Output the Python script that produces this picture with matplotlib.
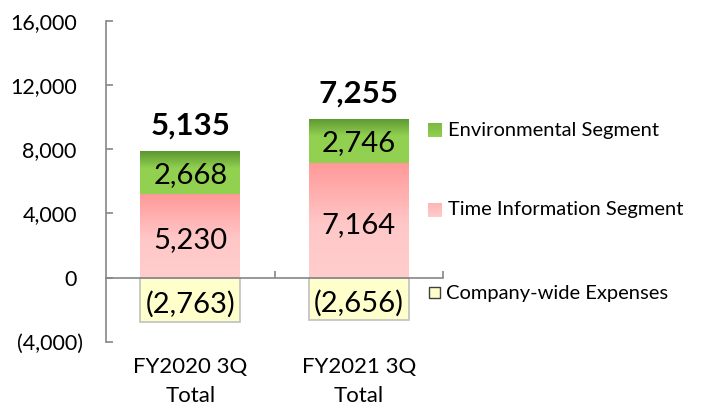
import matplotlib
matplotlib.use("Agg")
import matplotlib.pyplot as plt
import numpy as np
from matplotlib.colors import LinearSegmentedColormap
from matplotlib.patches import Rectangle
from matplotlib.transforms import ScaledTranslation

plt.rcParams['font.family'] = ['Lato', 'DejaVu Sans']

categories = ["FY2020 3Q\nTotal", "FY2021 3Q\nTotal"]
time_info = [5230, 7164]
environmental = [2668, 2746]
company_wide = [-2763, -2656]
totals = [5135, 7255]
series_names = ["Environmental Segment", "Time Information Segment", "Company-wide Expenses"]
yticks = [-4000, 0, 4000, 8000, 12000, 16000]
ytick_labels = ["(4,000)", "0", "4,000", "8,000", "12,000", "16,000"]

def fmt(v):
    return f"({abs(v):,})" if v < 0 else f"{v:,}"

fig = plt.figure(figsize=(7.13, 4.12), dpi=100)
ax = fig.add_axes([0.1487, 0.1699, 0.4726, 0.7799])
ax.set_xlim(-0.5, 1.5)
ax.set_ylim(-4000, 16000)

x = np.arange(len(categories))
w = 0.593

green_cmap = LinearSegmentedColormap.from_list("g", [(0, "#92d050"), (0.6, "#92d050"), (1.0, "#5b9631")])
pink_cmap = LinearSegmentedColormap.from_list("p", [(0, "#ffcccc"), (0.45, "#ffc8c8"), (1.0, "#ff9898")])
grad = np.linspace(0, 1, 256).reshape(-1, 1)

def gradient_fill(bars, cmap):
    for b in bars:
        b.set_facecolor("none")
        x0, y0 = b.get_x(), b.get_y()
        bw, bh = b.get_width(), b.get_height()
        im = ax.imshow(grad, cmap=cmap, origin="lower", aspect="auto",
                       extent=[x0, x0 + bw, y0, y0 + bh], zorder=2)
        im.set_clip_path(b)

b_time = ax.bar(x, time_info, w, color="#ffcccc", linewidth=0, zorder=2)
gradient_fill(b_time, pink_cmap)
b_env = ax.bar(x, environmental, w, bottom=time_info, color="#92d050", linewidth=0, zorder=2)
gradient_fill(b_env, green_cmap)
b_cw = ax.bar(x, company_wide, w, color="#ffffcc", edgecolor="#c0c0c0", linewidth=1.2, zorder=2)

for i in range(len(categories)):
    ax.text(x[i], time_info[i] / 2 - 300, fmt(time_info[i]), ha="center", va="center", fontsize=21, zorder=5)
    ax.text(x[i], time_info[i] + environmental[i] / 2 - 150, fmt(environmental[i]), ha="center", va="center", fontsize=21, zorder=5)
    ax.text(x[i], company_wide[i] / 2 - 250, fmt(company_wide[i]), ha="center", va="center", fontsize=21, zorder=5)
    ax.text(x[i], time_info[i] + environmental[i] + 700, fmt(totals[i]), ha="center", va="bottom",
            fontsize=22.5, fontweight="bold", zorder=5)

# axes styling
for s in ["top", "right"]:
    ax.spines[s].set_visible(False)
ax.spines["left"].set_color("#868686")
ax.spines["bottom"].set_color("#868686")
ax.spines["left"].set_linewidth(1.2)
ax.spines["bottom"].set_linewidth(1.2)
ax.spines["bottom"].set_position(("data", 0))
ax.spines["bottom"].set_zorder(4)

ax.set_yticks(yticks)
ax.set_yticklabels(ytick_labels)
ax.tick_params(axis="y", direction="in", length=5, width=1.2, color="#868686", pad=21, labelsize=15.5)
for lab in ax.get_yticklabels():
    if lab.get_text().startswith("("):
        lab.set_transform(lab.get_transform() + ScaledTranslation(6 / 100, 0, fig.dpi_scale_trans))

ax.set_xticks(x)
ax.set_xticklabels(categories, linespacing=1.55)
ax.set_xticks([0.5, 1.5], minor=True)
ax.tick_params(axis="x", which="major", length=0, pad=57, labelsize=16)
ax.tick_params(axis="x", which="minor", direction="in", length=5, width=1.2, color="#868686")

# legend
def legend_square(fx, fy, size, cmap=None, face=None, edge="none", lw=0):
    ax_l = fig.add_axes([fx / 713, 1 - (fy + size) / 412, size / 713, size / 412])
    ax_l.set_axis_off()
    ax_l.set_xlim(0, 1); ax_l.set_ylim(0, 1)
    if cmap is not None:
        ax_l.imshow(grad, cmap=cmap, origin="lower", aspect="auto", extent=[0, 1, 0, 1])
    else:
        ax_l.add_patch(Rectangle((0, 0), 1, 1, facecolor=face, edgecolor=edge, linewidth=lw, clip_on=False))

legend_square(428, 123, 14, cmap=LinearSegmentedColormap.from_list("g2", ["#92d050", "#7cb942"]))
legend_square(428, 203, 14, cmap=LinearSegmentedColormap.from_list("p2", ["#ffcccc", "#ffb5b5"]))
legend_square(429, 287, 11, face="#ffffcc", edge="#404040", lw=1.0)

fig.text(448 / 713, 1 - 130 / 412, series_names[0], fontsize=14.5, va="center", ha="left")
fig.text(448 / 713, 1 - 210 / 412, series_names[1], fontsize=14.5, va="center", ha="left")
fig.text(446 / 713, 1 - 293 / 412, series_names[2], fontsize=14.5, va="center", ha="left")

fig.savefig("out.png", dpi=100)
